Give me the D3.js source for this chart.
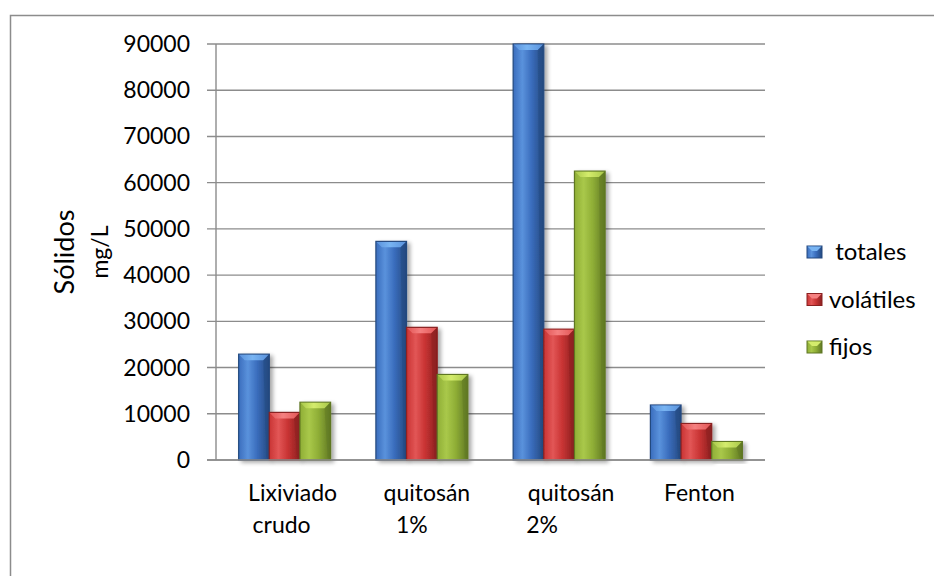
<!DOCTYPE html>
<html>
<head>
<meta charset="utf-8">
<script src="https://cdn.jsdelivr.net/npm/d3@7"></script>
<style>
  html, body { margin: 0; padding: 0; background: #fff; }
  svg { display: block; }
  text { font-family: Lato, "Open Sans", sans-serif; fill: #000; }
</style>
</head>
<body>
<svg id="chart" width="934" height="576"></svg>
<script>
// Sólidos (mg/L) por tratamiento
const categories = [["Lixiviado", "crudo"], ["quitosán", "1%"], ["quitosán", "2%"], ["Fenton"]];
const seriesNames = ["totales", "volátiles", "fijos"];
const legendLabels = [" totales", "volátiles", "fijos"];
const totales   = [22900, 47300, 90000, 11900];
const volatiles = [10300, 28700, 28300, 7900];
const fijos     = [12500, 18500, 62500, 4000];
const yTicks = [0, 10000, 20000, 30000, 40000, 50000, 60000, 70000, 80000, 90000];

const seriesValues = [totales, volatiles, fijos];

// bar palette: body, light edge, dark outline, top bevel
const palette = [
  { base: "#3a6dbd", light: "#5a92dc", dark: "#24497f", top: "#78b4f2" },
  { base: "#c93434", light: "#e25656", dark: "#8a2020", top: "#f58080" },
  { base: "#8fae36", light: "#a9c84a", dark: "#5f7724", top: "#d4ec6c" }
];

// small horizontal nudges for the wrapped category label lines
const labelShift = [[8, -3], [5, -10], [12, -17], [3]];

const svg = d3.select("#chart");
const plot = { left: 216, right: 765, top: 44, bottom: 460 };

const x0 = d3.scaleBand()
  .domain(d3.range(categories.length))
  .range([plot.left, plot.right])
  .paddingInner(0.33)
  .paddingOuter(0.165);
const x1 = d3.scaleBand()
  .domain(seriesNames)
  .range([0, x0.bandwidth()]);
const y = d3.scaleLinear().domain([0, 90000]).range([plot.bottom, plot.top]);

// outer frame
svg.append("rect")
  .attr("x", 10.5).attr("y", 15.5)
  .attr("width", 1000).attr("height", 1000)
  .attr("fill", "none").attr("stroke", "#8c8c8c").attr("stroke-width", 1.5);

const defs = svg.append("defs");
const shadow = defs.append("filter").attr("id", "shadow")
  .attr("x", "-30%").attr("y", "-10%").attr("width", "160%").attr("height", "130%");
shadow.append("feGaussianBlur").attr("in", "SourceAlpha").attr("stdDeviation", 2.2).attr("result", "blur");
shadow.append("feOffset").attr("in", "blur").attr("dx", 2.5).attr("dy", 2).attr("result", "off");
shadow.append("feComponentTransfer").attr("in", "off").attr("result", "soft")
  .append("feFuncA").attr("type", "linear").attr("slope", 0.35);
const merge = shadow.append("feMerge");
merge.append("feMergeNode").attr("in", "soft");
merge.append("feMergeNode").attr("in", "SourceGraphic");

palette.forEach((c, i) => {
  const g = defs.append("linearGradient").attr("id", "body" + i)
    .attr("x1", "0%").attr("x2", "100%").attr("y1", "0%").attr("y2", "0%");
  g.append("stop").attr("offset", "0%").attr("stop-color", c.base);
  g.append("stop").attr("offset", "30%").attr("stop-color", c.light);
  g.append("stop").attr("offset", "60%").attr("stop-color", c.base);
  g.append("stop").attr("offset", "100%").attr("stop-color", c.dark);
  const t = defs.append("linearGradient").attr("id", "top" + i)
    .attr("x1", "0%").attr("x2", "100%").attr("y1", "0%").attr("y2", "0%");
  t.append("stop").attr("offset", "0%").attr("stop-color", c.light);
  t.append("stop").attr("offset", "45%").attr("stop-color", c.top);
  t.append("stop").attr("offset", "100%").attr("stop-color", c.light);
});

// gridlines and y ticks
svg.append("g").selectAll("line").data(yTicks).join("line")
  .attr("x1", plot.left - 9).attr("x2", plot.right)
  .attr("y1", d => y(d)).attr("y2", d => y(d))
  .attr("stroke", "#8c8c8c").attr("stroke-width", 1.4);

// y axis line
svg.append("line")
  .attr("x1", plot.left).attr("x2", plot.left)
  .attr("y1", plot.top).attr("y2", plot.bottom)
  .attr("stroke", "#8c8c8c").attr("stroke-width", 1.4);

// y tick labels
svg.append("g").selectAll("text").data(yTicks).join("text")
  .attr("x", 190).attr("y", d => y(d))
  .attr("dy", "0.35em")
  .attr("text-anchor", "end")
  .attr("font-size", 23)
  .text(d => d);

// bars
const bevel = 6;
const groups = svg.append("g").selectAll("g").data(categories).join("g")
  .attr("transform", (d, i) => `translate(${x0(i)},0)`);

groups.each(function (cat, ci) {
  const g = d3.select(this);
  seriesNames.forEach((s, si) => {
    const v = seriesValues[si][ci];
    const bx = x1(s), bw = x1.bandwidth();
    const by = y(v), bh = y(0) - y(v);
    const bar = g.append("g").attr("filter", "url(#shadow)");
    bar.append("rect")
      .attr("x", bx).attr("y", by).attr("width", bw).attr("height", bh)
      .attr("fill", `url(#body${si})`)
      .attr("stroke", palette[si].dark).attr("stroke-width", 1.2);
    const b = Math.min(bevel, bh / 2);
    bar.append("path")
      .attr("d", `M${bx + 0.6},${by + 0.6} L${bx + bw - 0.6},${by + 0.6} L${bx + bw - b},${by + b} L${bx + b},${by + b} Z`)
      .attr("fill", `url(#top${si})`);
    bar.append("path")
      .attr("d", `M${bx + bw - 0.6},${by + 0.6} L${bx + bw - 0.6},${by + bh - 0.6} L${bx + bw - 3},${by + bh - 3} L${bx + bw - b},${by + b} Z`)
      .attr("fill", palette[si].dark).attr("opacity", 0.45);
  });
});

// x axis line
svg.append("line")
  .attr("x1", plot.left - 9).attr("x2", plot.right)
  .attr("y1", plot.bottom).attr("y2", plot.bottom)
  .attr("stroke", "#8c8c8c").attr("stroke-width", 1.4);

// category labels
svg.append("g").selectAll("text").data(categories).join("text")
  .attr("text-anchor", "middle")
  .attr("font-size", 23)
  .each(function (lines, i) {
    const t = d3.select(this);
    lines.forEach((line, li) => {
      t.append("tspan")
        .attr("x", x0(i) + x0.bandwidth() / 2 + labelShift[i][li])
        .attr("y", 501 + li * 32)
        .text(line);
    });
  });

// y axis title
svg.append("text")
  .attr("transform", "translate(74,252) rotate(-90)")
  .attr("text-anchor", "middle")
  .attr("font-size", 27)
  .text("Sólidos");
svg.append("text")
  .attr("transform", "translate(108,252) rotate(-90)")
  .attr("text-anchor", "middle")
  .attr("font-size", 23)
  .text("mg/L");

// legend
const legend = svg.append("g").selectAll("g").data(seriesNames).join("g")
  .attr("transform", (d, i) => `translate(807,${252 + i * 47.5})`);
legend.append("rect")
  .attr("x", 0).attr("y", -6).attr("width", 15).attr("height", 12)
  .attr("fill", (d, i) => `url(#body${i})`)
  .attr("stroke", (d, i) => palette[i].dark).attr("stroke-width", 1);
legend.append("path")
  .attr("d", "M0.5,-5.5 L14.5,-5.5 L10,-1 L5,-1 Z")
  .attr("fill", (d, i) => palette[i].top);
legend.append("text")
  .attr("x", 22).attr("y", 0).attr("dy", "0.35em")
  .attr("font-size", 24)
  .attr("xml:space", "preserve")
  .style("white-space", "pre")
  .text((d, i) => legendLabels[i]);
</script>
</body>
</html>
